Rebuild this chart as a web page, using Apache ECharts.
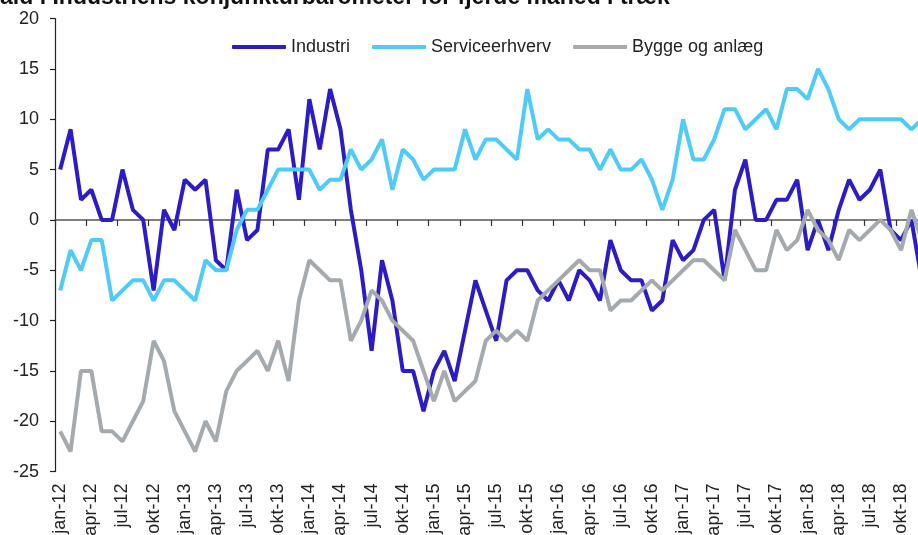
<!DOCTYPE html>
<html>
<head>
<meta charset="utf-8">
<script src="https://cdn.jsdelivr.net/npm/echarts@6/dist/echarts.min.js"></script>
<style>
html,body{margin:0;padding:0;background:#fff;overflow:hidden;}
#chart{width:918px;height:535px;}
</style>
</head>
<body>
<div id="chart"></div>
<script>
const titleText = "Fald i Industriens konjunkturbarometer for fjerde måned i træk";
const monthNames = ["jan","feb","mar","apr","maj","jun","jul","aug","sep","okt","nov","dec"];
const years = ["12","13","14","15","16","17","18"];
const categories = [];
years.forEach(y => monthNames.forEach(m => categories.push(m + "-" + y)));

const seriesNames = ["Industri", "Serviceerhverv", "Bygge og anlæg"];

const industri = [
  5, 9, 2, 3, 0, 0, 5, 1, 0, -7, 1, -1,
  4, 3, 4, -4, -5, 3, -2, -1, 7, 7, 9, 2,
  12, 7, 13, 9, 1, -5, -13, -4, -8, -15, -15, -19,
  -15, -13, -16, -11, -6, -9, -12, -6, -5, -5, -7, -8,
  -6, -8, -5, -6, -8, -2, -5, -6, -6, -9, -8, -2,
  -4, -3, 0, 1, -6, 3, 6, 0, 0, 2, 2, 4,
  -3, 0, -3, 1, 4, 2, 3, 5, -1, -2, 0, -6
];
const service = [
  -7, -3, -5, -2, -2, -8, -7, -6, -6, -8, -6, -6,
  -7, -8, -4, -5, -5, -1, 1, 1, 3, 5, 5, 5,
  5, 3, 4, 4, 7, 5, 6, 8, 3, 7, 6, 4,
  5, 5, 5, 9, 6, 8, 8, 7, 6, 13, 8, 9,
  8, 8, 7, 7, 5, 7, 5, 5, 6, 4, 1, 4,
  10, 6, 6, 8, 11, 11, 9, 10, 11, 9, 13, 13,
  12, 15, 13, 10, 9, 10, 10, 10, 10, 10, 9, 10
];
const bygge = [
  -21, -23, -15, -15, -21, -21, -22, -20, -18, -12, -14, -19,
  -21, -23, -20, -22, -17, -15, -14, -13, -15, -12, -16, -8,
  -4, -5, -6, -6, -12, -10, -7, -8, -10, -11, -12, -15,
  -18, -15, -18, -17, -16, -12, -11, -12, -11, -12, -8, -7,
  -6, -5, -4, -5, -5, -9, -8, -8, -7, -6, -7, -6,
  -5, -4, -4, -5, -6, -1, -3, -5, -5, -1, -3, -2,
  1, -1, -2, -4, -1, -2, -1, 0, -1, -3, 1, -2
];

const colors = ["#2c1cc8", "#4ecbf7", "#a4aaad"];
const font = "'Liberation Sans', Arial, sans-serif";

const chart = echarts.init(document.getElementById('chart'), null, {renderer: 'canvas'});
chart.setOption({
  animation: false,
  backgroundColor: '#ffffff',
  title: {
    text: titleText,
    left: -14,
    top: -14,
    padding: 0,
    textStyle: {fontFamily: font, fontSize: 23, fontWeight: 'bold', color: '#111', lineHeight: 23}
  },
  legend: {
    data: seriesNames,
    left: 227,
    top: 33,
    icon: 'roundRect',
    itemWidth: 54,
    itemHeight: 4,
    itemGap: 22,
    textStyle: {fontFamily: font, fontSize: 18, color: '#222'}
  },
  grid: {left: 55, width: 872, top: 18.6, height: 453, containLabel: false, outerBoundsMode: 'none'},
  xAxis: [
    {
      type: 'category',
      data: categories,
      position: 'bottom',
      boundaryGap: true,
      axisLine: {show: false, onZero: false},
      axisTick: {show: false},
      axisLabel: {interval: 2, rotate: 90, margin: 12, fontFamily: font, fontSize: 18, color: '#222'},
      splitLine: {show: false}
    },
    {
      type: 'category',
      data: categories,
      position: 'bottom',
      boundaryGap: true,
      axisLine: {show: true, onZero: true, lineStyle: {color: '#555', width: 1.5}},
      axisTick: {show: true, interval: 2, length: 6, lineStyle: {color: '#333', width: 1.2}},
      axisLabel: {show: false},
      splitLine: {show: false}
    }
  ],
  yAxis: {
    type: 'value',
    min: -25,
    max: 20,
    interval: 5,
    axisLine: {show: true, lineStyle: {color: '#222', width: 1.2}},
    axisTick: {show: true, length: 5, lineStyle: {color: '#222', width: 1.2}},
    axisLabel: {margin: 16, fontFamily: font, fontSize: 18, color: '#222'},
    splitLine: {show: false}
  },
  series: [
    {name: seriesNames[0], type: 'line', data: industri, xAxisIndex: 0, symbol: 'none', color: colors[0], lineStyle: {width: 4, color: colors[0]}},
    {name: seriesNames[1], type: 'line', data: service, xAxisIndex: 0, symbol: 'none', color: colors[1], lineStyle: {width: 4, color: colors[1]}},
    {name: seriesNames[2], type: 'line', data: bygge, xAxisIndex: 0, symbol: 'none', color: colors[2], lineStyle: {width: 4, color: colors[2]}}
  ]
});
</script>
</body>
</html>
